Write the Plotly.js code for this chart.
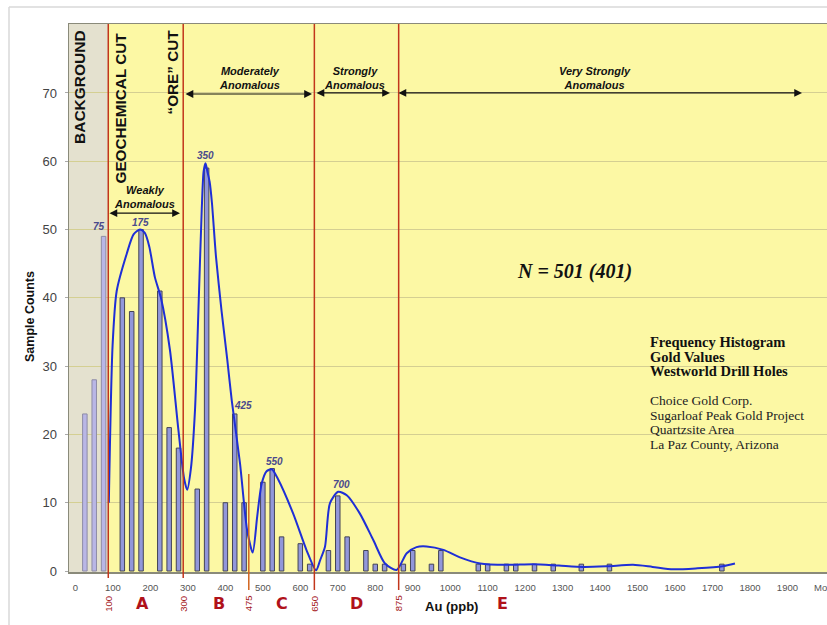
<!DOCTYPE html>
<html><head><meta charset="utf-8">
<script src="https://cdn.plot.ly/plotly-3.0.1.min.js"></script>
<style>html,body{margin:0;padding:0;background:#fff;}#chart{width:827px;height:625px;}</style>
</head><body><div id="chart"></div>
<script>
// ---- data ----
const bgBins = [25, 50, 75];
const bgCounts = [23, 28, 49];
const bins = [125,150,175,225,250,275,325,350,400,425,450,500,525,550,600,625,675,700,725,775,800,825,875,900,950,975,1075,1100,1150,1175,1225,1275,1350,1425,1725];
const counts = [40,38,50,41,21,18,12,59,10,23,10,13,15,5,4,1,3,11,5,3,1,1,1,3,1,3,1,1,1,1,1,1,1,1,1];
const curveX = [89,99,110,137,155,172,185,197,212,228,252,274,290,298,308,319,328,337,342,347,352,358,364,375,390,405,417,439,458,473,485,497,510,524,540,581,617,642,653,666,679,701,724,759,795,826,857,884,910,937,982,1026,1080,1151,1222,1290,1355,1420,1488,1540,1595,1660,1727,1760];
const curveY = [10,33,41,46.5,49.3,50,49.5,47.5,43,40,32.4,21,13.5,11.9,15,23.6,38,53,58.5,59.7,58.5,57,54,46,38,31,25,15.8,6,2.7,8,12.8,14.6,14.9,13.5,8.4,3,0.1,1.6,3.6,9.9,11.6,11.1,8.4,4.5,1.1,0.15,2.6,3.5,3.6,3.1,2.0,1.1,0.9,1.0,0.8,0.6,0.7,0.9,0.6,0.25,0.4,0.7,1.1];
const xTickVals = [0,100,200,300,400,500,600,700,800,900,1000,1100,1200,1300,1400,1500,1600,1700,1800,1900,2000];
const xTickText = ['0','100','200','300','400','500','600','700','800','900','1000','1100','1200','1300','1400','1500','1600','1700','1800','1900','More'];
const yTickVals = [0,10,20,30,40,50,60,70];
const cutLabels = ['100','300','475','650','875'];
const cutBounds = [87.5, 287.5, 462.5, 637.5, 862.5];
const zoneLetters = ['A','B','C','D','E'];
const zoneCenters = [180, 383, 551, 749, 1140];
const peakLabels = ['75','175','350','425','550','700'];
const peakLabelX = [63, 174, 347, 446, 532, 710];
const peakLabelY = [50.4, 51.0, 60.9, 24.2, 16.1, 12.6];
const titleLines = ['Frequency Histogram','Gold Values','Westworld Drill Holes'];
const infoLines = ['Choice Gold Corp.','Sugarloaf Peak Gold Project','Quartzsite Area','La Paz County, Arizona'];

// ---- geometry helpers (layout only) ----
const L = 69, R = 827, T = 24, B = 572, H = 625;
const xr = [-17.3, 2005.6];
const pyPaper = py => (B - py) / (B - T);
const pxPaper = px => (px - L) / (R - L);

const traces = [
  {type:'bar', x:bgBins, y:bgCounts, width:12,
   marker:{color:'#b9b6e6', line:{color:'#8e8ca6', width:1}}, hoverinfo:'x+y'},
  {type:'bar', x:bins, y:counts, width:12,
   marker:{color:'#9297da', line:{color:'#444456', width:1}}, hoverinfo:'x+y'},
  {type:'scatter', mode:'lines', x:curveX, y:curveY,
   line:{color:'#1f2fd6', width:2, shape:'spline', smoothing:0.7}, hoverinfo:'skip'}
];

const shapes = [];
shapes.push({type:'rect', layer:'below', xref:'x', yref:'paper', x0:xr[0], x1:cutBounds[0], y0:0, y1:1,
  fillcolor:'#e4e1cf', line:{width:0}});
shapes.push({type:'line', xref:'paper', yref:'paper', x0:pxPaper(9), x1:pxPaper(830), y0:pyPaper(7), y1:pyPaper(7), line:{color:'#d9d9d9', width:1.5}});
shapes.push({type:'line', xref:'paper', yref:'paper', x0:pxPaper(9), x1:pxPaper(9), y0:pyPaper(7), y1:pyPaper(630), line:{color:'#d9d9d9', width:1.5}});
const cutBottoms = [578, 578, 590, 590, 590];
cutBounds.forEach((c,i)=>{
  const isOrange = i===2;
  shapes.push({type:'line', layer:'above', xref:'x', yref:'paper', x0:c, x1:c,
    y0:pyPaper(cutBottoms[i]), y1: isOrange ? pyPaper(474) : 1,
    line:{color: isOrange ? '#d2641e' : '#c2361c', width:1.5}});
});

const ann = [];
const vt = (text, px, py, size) => ann.push({text:text, xref:'paper', yref:'paper', x:pxPaper(px), y:pyPaper(py),
  xanchor:'center', yanchor:'top', textangle:-90, showarrow:false,
  font:{family:'Liberation Sans, Arial', size:size, color:'#111'}});
vt('<b>BACKGROUND</b>', 79, 28, 15.5);
vt('<b>GEOCHEMICAL CUT</b>', 120, 31, 15.3);
vt('<b>“ORE” CUT</b>', 172, 28, 15.3);

const zoneText = (text, x, y) => ann.push({text:'<b><i>'+text+'</i></b>', xref:'x', yref:'y', x:x, y:y,
  xanchor:'center', yanchor:'middle', showarrow:false,
  font:{family:'Liberation Sans, Arial', size:11, color:'#111'}});
zoneText('Weakly<br>Anomalous', 185.5, 54.8);
zoneText('Moderately<br>Anomalous', 465.7, 72.2);
zoneText('Strongly<br>Anomalous', 743.3, 72.2);
zoneText('Very Strongly<br>Anomalous', 1386.4, 72.2);

const arrow = (x0, x1, y) => ann.push({text:'', xref:'x', yref:'y', x:x1, y:y, axref:'x', ayref:'y', ax:x0, ay:y,
  showarrow:true, arrowside:'end+start', arrowhead:2, arrowsize:1.3, arrowwidth:1.2, arrowcolor:'#111',
  standoff:0, startstandoff:0});
arrow(86.7, 278.9, 52.4);
arrow(289.6, 631.2, 69.85);
arrow(639.2, 839.3, 70.0);
arrow(858, 1939, 70.0);

peakLabels.forEach((t,i)=> ann.push({text:'<i><b>'+t+'</b></i>', xref:'x', yref:'y', x:peakLabelX[i], y:peakLabelY[i],
  xanchor:'center', yanchor:'middle', showarrow:false,
  font:{family:'Liberation Sans, Arial', size:10, color:'#4a4a8c'}}));

ann.push({text:'<b><i>N = 501 (401)</i></b>', xref:'x', yref:'y', x:1330.4, y:43.8, xanchor:'center', yanchor:'middle',
  showarrow:false, font:{family:'Liberation Serif, Times New Roman', size:20, color:'#111'}});

const tY = [342, 356.5, 371];
titleLines.forEach((t,i)=> ann.push({text:'<b>'+t+'</b>', xref:'paper', yref:'paper', x:pxPaper(648), y:pyPaper(tY[i]),
  xanchor:'left', yanchor:'middle', showarrow:false, font:{family:'Liberation Serif, Times New Roman', size:14.5, color:'#111'}}));
const iY = [400.7, 415.2, 429.7, 444.2];
infoLines.forEach((t,i)=> ann.push({text:t, xref:'paper', yref:'paper', x:pxPaper(648), y:pyPaper(iY[i]),
  xanchor:'left', yanchor:'middle', showarrow:false, font:{family:'Liberation Serif, Times New Roman', size:13.5, color:'#222'}}));

cutLabels.forEach((t,i)=> ann.push({text:t, xref:'x', yref:'paper', x:cutBounds[i], y:pyPaper(603.5),
  xanchor:'center', yanchor:'middle', textangle:-90, showarrow:false,
  font:{family:'Liberation Sans, Arial', size:9.5, color:'#a3161a'}}));
zoneLetters.forEach((t,i)=> ann.push({text:'<b>'+t+'</b>', xref:'x', yref:'paper', x:zoneCenters[i], y:pyPaper(603.5),
  xanchor:'center', yanchor:'middle', showarrow:false,
  font:{family:'DejaVu Sans, Arial', size:16, color:'#b0121a'}}));
ann.push({text:'<b>Au (ppb)</b>', xref:'paper', yref:'paper', x:pxPaper(451), y:pyPaper(606.5), xanchor:'center', yanchor:'middle',
  showarrow:false, font:{family:'Liberation Sans, Arial', size:13, color:'#111'}});
ann.push({text:'<b>Sample Counts</b>', xref:'paper', yref:'paper', x:pxPaper(30), y:pyPaper(317), xanchor:'center', yanchor:'middle',
  textangle:-90, showarrow:false, font:{family:'Liberation Sans, Arial', size:12.5, color:'#111'}});

const layout = {
  width:827, height:625,
  margin:{l:L, r:0, t:T, b:H-B},
  paper_bgcolor:'#ffffff', plot_bgcolor:'#fcf8a4',
  showlegend:false, bargap:0,
  xaxis:{range:xr, tickvals:xTickVals, ticktext:xTickText, showgrid:false, zeroline:false,
    showline:true, linecolor:'#8a8a7a', linewidth:1.5, mirror:true, ticks:'', ticklabelstandoff:6,
    ticklabeloverflow:'allow',
    tickfont:{family:'Liberation Sans, Arial', size:9.5, color:'#555'}},
  yaxis:{range:[-0.146, 80.1], tickvals:yTickVals, showgrid:true, gridcolor:'#d4cf92', gridwidth:1,
    zeroline:false, showline:true, linecolor:'#8a8a7a', linewidth:1.5, mirror:true,
    ticks:'outside', ticklen:3, tickcolor:'#aaa', ticklabelstandoff:5,
    tickfont:{family:'Liberation Sans, Arial', size:13, color:'#444'}},
  shapes:shapes, annotations:ann
};
Plotly.newPlot('chart', traces, layout, {displayModeBar:false, staticPlot:true});
</script></body></html>
